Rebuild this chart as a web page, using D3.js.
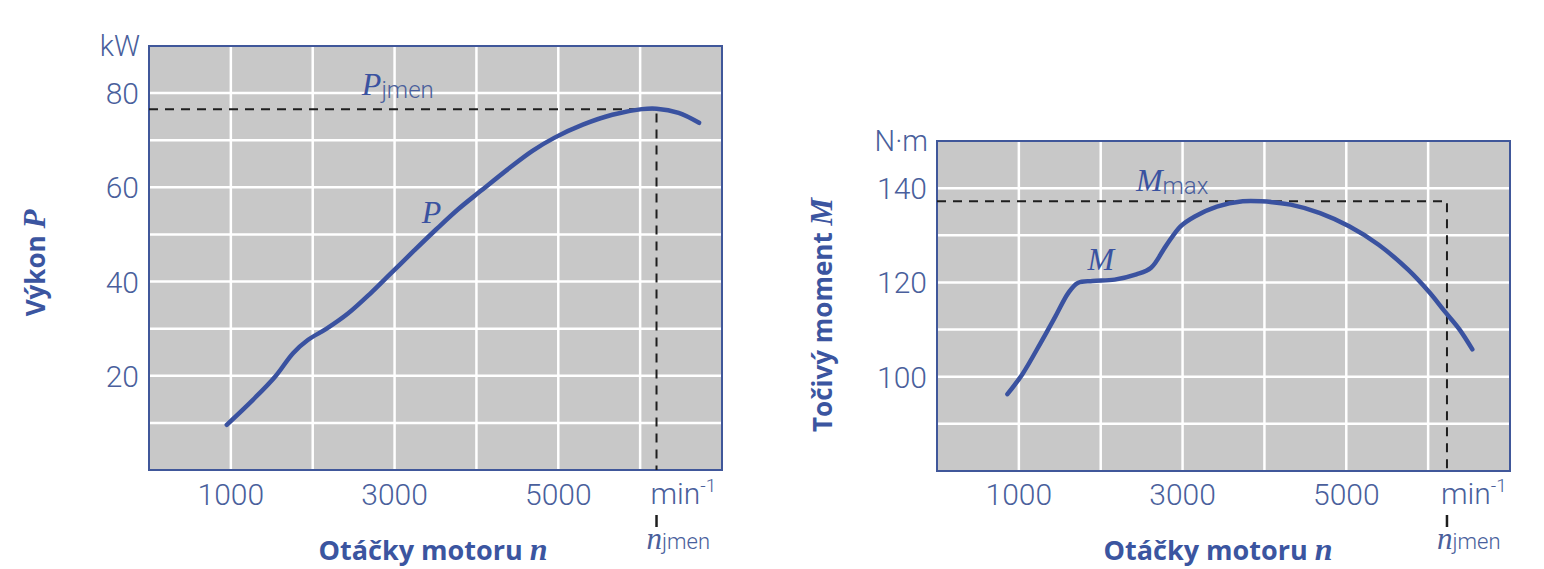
<!DOCTYPE html>
<html><head><meta charset="utf-8">
<script src="https://cdn.jsdelivr.net/npm/d3@7"></script>
<style>
html,body{margin:0;padding:0;background:#fff;}
svg{display:block;}
.tick-lbl{font-family:Roboto,"Open Sans",sans-serif;font-weight:300;fill:#4a5f9c;}
.title{font-family:"Open Sans",Roboto,sans-serif;font-weight:700;fill:#3b55a0;}
.it{font-family:"Liberation Serif","DejaVu Serif",serif;font-style:italic;}
</style></head>
<body>
<script>
// ---------- data ----------
const rpmTicks = [1000, 3000, 5000];
const powerTicks = [20, 40, 60, 80];
const torqueTicks = [100, 120, 140];

const powerRpm = [950, 1270, 1540, 1760, 1940, 2170, 2430, 2700, 2970, 3240, 3510, 3780, 4050, 4410, 4680, 4950, 5300, 5660, 6020, 6200, 6470, 6720];
const powerKw  = [9.6, 14.9, 19.8, 24.8, 27.6, 30.0, 33.2, 37.4, 42.0, 46.6, 51.1, 55.4, 59.2, 64.2, 67.7, 70.5, 73.3, 75.4, 76.6, 76.7, 75.8, 73.7];

const torqueRpm = [860, 1045, 1270, 1450, 1605, 1720, 1900, 2170, 2435, 2615, 2795, 2975, 3150, 3420, 3735, 3960, 4320, 4680, 5035, 5395, 5755, 6020, 6200, 6380, 6540];
const torqueNm  = [96.3, 100.6, 107.3, 112.9, 117.8, 119.9, 120.3, 120.6, 121.7, 123.1, 127.7, 131.9, 134.0, 136.1, 137.2, 137.2, 136.5, 134.7, 131.9, 128.0, 122.7, 117.8, 113.9, 110.1, 105.8];

const powerRated = 76.6, powerRatedRpm = 6200;
const torqueMax = 137.2, torqueRatedRpm = 6230;

// ---------- drawing ----------
const W = 1544, H = 569;
const svg = d3.select("body").append("svg").attr("width", W).attr("height", H);

const blue = "#3a52a0";

function chart(cfg){
  const g = svg.append("g");
  const x = d3.scaleLinear().domain([0, 7000]).range([cfg.x0, cfg.x1]);
  const y = d3.scaleLinear().domain(cfg.yDomain).range([cfg.y1, cfg.y0]);

  // plot background
  g.append("rect").attr("x", x(0)).attr("y", y(cfg.yDomain[1]))
    .attr("width", x(7000)-x(0)).attr("height", y(cfg.yDomain[0])-y(cfg.yDomain[1]))
    .attr("fill", "#c8c8c8");

  // grid
  const xg = d3.range(1000, 7000, 1000);
  const yg = d3.range(cfg.yDomain[0]+10, cfg.yDomain[1], 10);
  g.selectAll(".vg").data(xg).enter().append("line")
    .attr("x1", d=>x(d)).attr("x2", d=>x(d))
    .attr("y1", y(cfg.yDomain[0])).attr("y2", y(cfg.yDomain[1]))
    .attr("stroke", "#fff").attr("stroke-width", 2.5);
  g.selectAll(".hg").data(yg).enter().append("line")
    .attr("x1", x(0)).attr("x2", x(7000))
    .attr("y1", d=>y(d)).attr("y2", d=>y(d))
    .attr("stroke", "#fff").attr("stroke-width", 2.5);

  // border
  g.append("rect").attr("x", x(0)).attr("y", y(cfg.yDomain[1]))
    .attr("width", x(7000)-x(0)).attr("height", y(cfg.yDomain[0])-y(cfg.yDomain[1]))
    .attr("fill", "none").attr("stroke", "#40579a").attr("stroke-width", 2);

  // dashed reference lines
  g.append("path")
    .attr("d", `M${x(0)},${y(cfg.refVal)} H${x(cfg.refRpm)} V${y(cfg.yDomain[0])}`)
    .attr("fill", "none").attr("stroke", "#1e1e1e").attr("stroke-width", 2)
    .attr("stroke-dasharray", "9,7");
  g.append("line").attr("x1", x(cfg.refRpm)).attr("x2", x(cfg.refRpm))
    .attr("y1", 515).attr("y2", 527).attr("stroke", "#1e1e1e").attr("stroke-width", 2.5);

  // curve
  const line = d3.line().x(d=>x(d[0])).y(d=>y(d[1])).curve(d3.curveCatmullRom.alpha(0.5));
  g.append("path").datum(cfg.rpm.map((r,i)=>[r, cfg.val[i]]))
    .attr("d", line).attr("fill", "none").attr("stroke", blue)
    .attr("stroke-width", 4.5).attr("stroke-linecap", "round");

  // x tick labels
  g.selectAll(".xl").data(rpmTicks).enter().append("text").attr("class", "tick-lbl")
    .attr("x", d=>x(d)).attr("y", 505).attr("text-anchor", "middle")
    .attr("font-size", 30).text(d=>d);
  const mt = g.append("text").attr("class", "tick-lbl").attr("x", x(cfg.refRpm)-6).attr("y", 504)
    .attr("font-size", 30);
  mt.append("tspan").text("min");
  mt.append("tspan").attr("font-size", 19).attr("dy", -12).text("-1");

  // y tick labels
  g.selectAll(".yl").data(cfg.yTicks).enter().append("text").attr("class", "tick-lbl")
    .attr("x", cfg.x0 - 10).attr("y", d=>y(d) + 11).attr("text-anchor", "end")
    .attr("font-size", 30).text(d=>d);
  // unit
  g.append("text").attr("class", "tick-lbl").attr("x", cfg.x0 - 9).attr("y", cfg.unitY)
    .attr("text-anchor", "end").attr("font-size", 29).text(cfg.unit);

  // n_jmen
  const nj = g.append("text").attr("x", x(cfg.refRpm) - 10).attr("y", 549).attr("fill", "#4a5f9c");
  nj.append("tspan").attr("class", "it").attr("font-size", 31).text("n");
  nj.append("tspan").attr("class", "tick-lbl").attr("font-size", 22).attr("font-weight", 400).attr("dy", 0).text("jmen");

  // x title
  const xt = g.append("text").attr("class", "title").attr("x", cfg.xTitleX).attr("y", 560)
    .attr("text-anchor", "middle").attr("font-size", 27);
  xt.append("tspan").text("Otáčky motoru ");
  xt.append("tspan").attr("class", "it").attr("font-weight", 700).attr("font-size", 32).text("n");

  // y title
  const yt = g.append("text").attr("class", "title")
    .attr("transform", `translate(${cfg.yTitleX},${cfg.yTitleY}) rotate(-90)`)
    .attr("text-anchor", "middle").attr("font-size", 26);
  yt.append("tspan").text(cfg.yTitle + " ");
  yt.append("tspan").attr("class", "it").attr("font-weight", 700).attr("font-size", 31).text(cfg.sym);

  // curve label
  g.append("text").attr("class", "it").attr("fill", blue).attr("font-size", 32)
    .attr("x", x(cfg.symPos[0])).attr("y", y(cfg.symPos[1])).attr("text-anchor", "middle")
    .text(cfg.sym);

  // reference label
  const rl = g.append("text").attr("x", x(cfg.refLblPos[0])).attr("y", y(cfg.refLblPos[1])).attr("fill", blue);
  rl.append("tspan").attr("class", "it").attr("font-size", 32).text(cfg.sym);
  rl.append("tspan").attr("class", "tick-lbl").attr("font-weight", 400).attr("font-size", 24).attr("dy", 3).text(cfg.refSub);
}

chart({
  x0: 149, x1: 722, y0: 46, y1: 470, yDomain: [0, 90],
  rpm: powerRpm, val: powerKw, yTicks: powerTicks,
  refVal: powerRated, refRpm: powerRatedRpm,
  unit: "kW", unitY: 56, xTitleX: 433,
  yTitle: "Výkon", sym: "P", yTitleX: 45, yTitleY: 263,
  symPos: [3450, 52.4], refLblPos: [2600, 79.6], refSub: "jmen"
});

chart({
  x0: 937, x1: 1510, y0: 141, y1: 471, yDomain: [80, 150],
  rpm: torqueRpm, val: torqueNm, yTicks: torqueTicks,
  refVal: torqueMax, refRpm: torqueRatedRpm,
  unit: "N·m", unitY: 151, xTitleX: 1218,
  yTitle: "Točivý moment", sym: "M", yTitleX: 832, yTitleY: 315,
  symPos: [2000, 122.7], refLblPos: [2430, 139.3], refSub: "max"
});
</script>
</body></html>
